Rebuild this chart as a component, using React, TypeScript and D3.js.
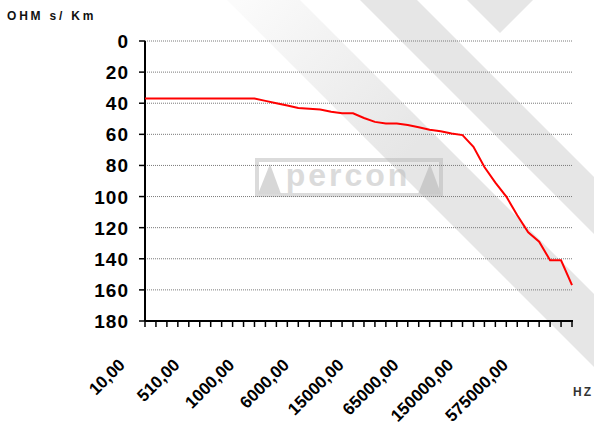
import React, { useEffect, useRef } from 'react';
import * as d3 from 'd3';

const W = 594;
const H = 428;

// Ohms/Km at each of the 40 frequency steps
const ohms = [
  37, 37, 37, 37, 37, 37, 37, 37, 37, 37,
  37, 38.5, 40, 41.5, 43, 43.5, 44, 45.5, 46.5, 46.5,
  49.5, 52, 53, 53, 54, 55.5, 57, 58, 59.5, 60.5,
  68, 81, 91, 100, 112, 123, 129, 141, 141, 157,
];
// only every 5th frequency gets a label
const freqLabels = ['10,00', '510,00', '1000,00', '6000,00', '15000,00', '65000,00', '150000,00', '575000,00'];
const labelStep = 5;
const yTicks = [0, 20, 40, 60, 80, 100, 120, 140, 160, 180];

const FONT = '"Liberation Sans", Arial, sans-serif';

export default function App() {
  const svgRef = useRef<SVGSVGElement>(null);

  useEffect(() => {
    if (!svgRef.current) return;
    const svg = d3.select(svgRef.current);
    svg.selectAll('*').remove();

    const x = d3.scalePoint<number>().domain(d3.range(ohms.length)).range([145, 572]);
    const y = d3.scaleLinear().domain([0, 180]).range([41, 321]);

    // watermark stripes behind everything
    const defs = svg.append('defs');
    const grad = defs.append('linearGradient')
      .attr('id', 'fade')
      .attr('gradientUnits', 'userSpaceOnUse')
      .attr('x1', 240).attr('y1', 0).attr('x2', 400).attr('y2', 160);
    grad.append('stop').attr('offset', 0).attr('stop-color', '#fbfbfb');
    grad.append('stop').attr('offset', 1).attr('stop-color', '#e6e6e6');

    const wm = svg.append('g');
    wm.append('polygon').attr('points', '227,0 300,0 594,294 594,367').attr('fill', 'url(#fade)');
    wm.append('polygon').attr('points', '360,0 417,0 594,177 594,234').attr('fill', '#e6e6e6');
    wm.append('polygon').attr('points', '467,0 533,0 500,33').attr('fill', '#e6e6e6');

    // percon logo, faint
    const logo = wm.append('g').attr('opacity', 0.5);
    logo.append('rect').attr('x', 257).attr('y', 160).attr('width', 184).attr('height', 35)
      .attr('fill', 'none').attr('stroke', '#b8b8b8').attr('stroke-width', 4);
    logo.append('polygon').attr('points', '258,194 270,164 281,194').attr('fill', '#b0b0b0');
    logo.append('polygon').attr('points', '418,194 430,164 441,194').attr('fill', '#b0b0b0');
    logo.append('text').attr('x', 348).attr('y', 186).attr('text-anchor', 'middle')
      .attr('font-family', FONT).attr('font-weight', 'bold').attr('font-size', 32).attr('letter-spacing', 3)
      .attr('fill', '#b8b8b8').text('percon');

    // gridlines
    svg.append('g').selectAll('line').data(yTicks.slice(0, -1)).join('line')
      .attr('x1', x(0)!).attr('x2', x(ohms.length - 1)!)
      .attr('y1', d => y(d)).attr('y2', d => y(d))
      .attr('stroke', '#7a7a7a').attr('stroke-width', 1).attr('stroke-dasharray', '1,1');

    // axes
    const ax = svg.append('g').attr('stroke', '#000');
    ax.append('line').attr('x1', x(0)!).attr('x2', x(0)!).attr('y1', y(0)).attr('y2', y(180)).attr('stroke-width', 2);
    ax.append('line').attr('x1', x(0)!).attr('x2', x(ohms.length - 1)! + 1).attr('y1', y(180)).attr('y2', y(180)).attr('stroke-width', 2);
    ax.selectAll('.yt').data(yTicks).join('line')
      .attr('x1', x(0)! - 6).attr('x2', x(0)!)
      .attr('y1', d => y(d)).attr('y2', d => y(d)).attr('stroke-width', 1.5);
    ax.selectAll('.xt').data(d3.range(ohms.length)).join('line')
      .attr('x1', d => x(d)!).attr('x2', d => x(d)!)
      .attr('y1', y(180)).attr('y2', y(180) + 6).attr('stroke-width', 1.5);

    // y labels
    svg.append('g').selectAll('text').data(yTicks).join('text')
      .attr('x', 129).attr('y', d => y(d) + 7)
      .attr('text-anchor', 'end')
      .attr('font-family', FONT).attr('font-weight', 'bold').attr('font-size', 19)
      .attr('letter-spacing', 1)
      .text(d => d);

    // x labels
    svg.append('g').selectAll('text').data(freqLabels).join('text')
      .attr('transform', (d, i) => `translate(${x(i * labelStep)! - 19},366) rotate(-45)`)
      .attr('text-anchor', 'end')
      .attr('font-family', FONT).attr('font-weight', 'bold').attr('font-size', 17)
      .text(d => d);

    // curve
    const line = d3.line<number>().x((d, i) => x(i)!).y(d => y(d));
    svg.append('path').datum(ohms)
      .attr('d', line)
      .attr('fill', 'none').attr('stroke', '#ff0000').attr('stroke-width', 2);

    // unit labels
    svg.append('text').attr('x', 7).attr('y', 20)
      .attr('font-family', FONT).attr('font-weight', 'bold').attr('font-size', 12)
      .attr('letter-spacing', 2.8).attr('fill', '#111').text('OHM s/ Km');
    svg.append('text').attr('x', 573).attr('y', 396)
      .attr('font-family', FONT).attr('font-weight', 'bold').attr('font-size', 12)
      .attr('letter-spacing', 2).attr('fill', '#333').text('HZ');
  }, []);

  return (
    <div style={{ position: 'absolute', left: 0, top: 0 }}>
      <svg ref={svgRef} width={W} height={H} style={{ display: 'block', background: '#fff' }} />
    </div>
  );
}
